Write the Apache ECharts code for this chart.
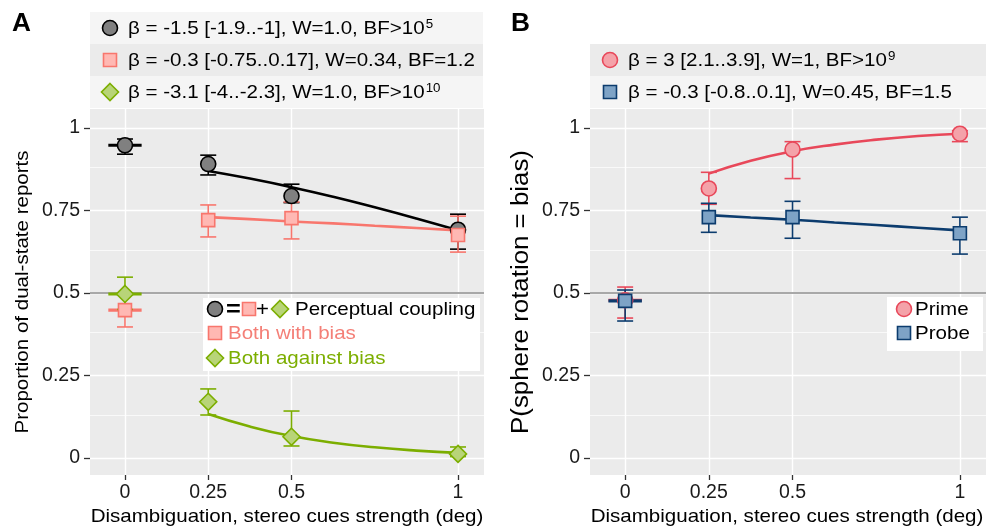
<!DOCTYPE html>
<html><head><meta charset="utf-8">
<script src="https://cdn.jsdelivr.net/npm/echarts@6/dist/echarts.min.js"></script>
<style>html,body{margin:0;padding:0;background:#fff}#c{width:986px;height:528px}</style>
</head><body><div id="c"></div>
<script>
// ---- data ----
const xLevels = [0, 0.25, 0.5, 1];
const xTicks = [0, 0.25, 0.5, 1];
const yTicks = [0, 0.25, 0.5, 0.75, 1];
const yMinor = [0.125, 0.375, 0.625, 0.875];
const chanceLevel = 0.5;
const fitX = [0.25, 0.375, 0.5, 0.625, 0.75, 0.875, 1];

// Panel A
const couplingMean = [0.948, 0.891, 0.794, 0.692];
const couplingLow  = [0.921, 0.858, 0.774, 0.633];
const couplingHigh = [0.967, 0.918, 0.830, 0.739];
const couplingFit  = [0.870, 0.847, 0.821, 0.792, 0.760, 0.726, 0.690];

const withBiasMean = [0.448, 0.721, 0.727, 0.676];
const withBiasLow  = [0.397, 0.670, 0.664, 0.624];
const withBiasHigh = [0.500, 0.767, 0.776, 0.733];
const withBiasFit  = [0.730, 0.724, 0.717, 0.711, 0.704, 0.697, 0.690];

const againstMean = [0.497, 0.170, 0.064, 0.012];
const againstLow  = [0.450, 0.130, 0.036, 0.004];
const againstHigh = [0.548, 0.209, 0.142, 0.033];
const againstFit  = [0.133, 0.095, 0.066, 0.046, 0.032, 0.022, 0.015];

// Panel B
const primeMean = [0.478, 0.817, 0.935, 0.983];
const primeLow  = [0.424, 0.769, 0.847, 0.959];
const primeHigh = [0.518, 0.866, 0.959, 0.992];
const primeFit  = [0.862, 0.901, 0.930, 0.950, 0.965, 0.976, 0.983];

const probeMean = [0.476, 0.730, 0.730, 0.681];
const probeLow  = [0.415, 0.684, 0.666, 0.618];
const probeHigh = [0.509, 0.772, 0.778, 0.730];
const probeFit  = [0.736, 0.729, 0.722, 0.714, 0.706, 0.698, 0.690];

// text
const legendTextA = [
  'β = -1.5 [-1.9..-1], W=1.0, BF>10{sup|5}',
  'β = -0.3 [-0.75..0.17], W=0.34, BF=1.2',
  'β = -3.1 [-4..-2.3], W=1.0, BF>10{sup|10}'
];
const legendTextB = [
  'β = 3 [2.1..3.9], W=1, BF>10{sup|9}',
  'β = -0.3 [-0.8..0.1], W=0.45, BF=1.5'
];
const innerLegendA = ['Perceptual coupling', 'Both with bias', 'Both against bias'];
const innerLegendB = ['Prime', 'Probe'];
const xTitle = 'Disambiguation, stereo cues strength (deg)';
const yTitleA = 'Proportion of dual-state reports';
const yTitleB = 'P(sphere rotation = bias)';

// ---- styles ----
const FONT = 'Liberation Sans, Arial, sans-serif';
const C = {
  coupling: {fill: '#808080', stroke: '#000000'},
  withBias: {fill: '#ffb8b3', stroke: '#f8766d', text: '#f47f77'},
  against: {fill: '#b8d478', stroke: '#7cae00', text: '#7cae00'},
  prime: {fill: '#f4a2a9', stroke: '#e8485a'},
  probe: {fill: '#7ea3c6', stroke: '#0c3c6e'}
};
const zeroBarHalf = 0.05;

function errData(mean, low, high) {
  return xLevels.map((x, i) => [x, low[i], high[i], mean[i]]);
}
function fitData(vals) { return fitX.map((x, i) => [x, vals[i]]); }
function ptData(vals) { return xLevels.map((x, i) => [x, vals[i]]); }

function errRender(color) {
  return function (params, api) {
    const x = api.value(0), lo = api.value(1), hi = api.value(2), m = api.value(3);
    const a = api.coord([x, lo]), b = api.coord([x, hi]);
    const cap = 8;
    const st = {stroke: color, lineWidth: 1.6, fill: null};
    const ch = [
      {type: 'line', shape: {x1: a[0], y1: a[1], x2: b[0], y2: b[1]}, style: st},
      {type: 'line', shape: {x1: a[0] - cap, y1: a[1], x2: a[0] + cap, y2: a[1]}, style: st},
      {type: 'line', shape: {x1: b[0] - cap, y1: b[1], x2: b[0] + cap, y2: b[1]}, style: st}
    ];
    if (x === xLevels[0]) {
      const l = api.coord([x - zeroBarHalf, m]), r = api.coord([x + zeroBarHalf, m]);
      ch.push({type: 'line', shape: {x1: l[0], y1: l[1], x2: r[0], y2: r[1]}, style: {stroke: color, lineWidth: 3.2}});
    }
    return {type: 'group', children: ch};
  };
}

function errSeries(g, mean, low, high, col) {
  return {type: 'custom', xAxisIndex: g, yAxisIndex: g, z: 2, renderItem: errRender(col.stroke),
    data: errData(mean, low, high), encode: {x: 0, y: [1, 2]}, silent: true};
}
function fitSeries(g, vals, col) {
  return {type: 'line', xAxisIndex: g, yAxisIndex: g, z: 3, smooth: true, showSymbol: false,
    data: fitData(vals), lineStyle: {color: col.stroke, width: 2.6}, silent: true};
}
function ptSeries(g, vals, col, symbol, size) {
  return {type: 'scatter', xAxisIndex: g, yAxisIndex: g, z: 4, symbol: symbol, symbolSize: size,
    data: ptData(vals), itemStyle: {color: col.fill, borderColor: col.stroke, borderWidth: 1.6, opacity: 1}, silent: true};
}
function backLineSeries(g) {
  const white = w => ({color: '#ffffff', width: w, type: 'solid', opacity: 1});
  const lines = yMinor.map(v => ({yAxis: v, lineStyle: white(0.7)}))
    .concat(yTicks.map(v => ({yAxis: v, lineStyle: white(1.4)})))
    .concat(xTicks.map(v => ({xAxis: v, lineStyle: white(1.4)})))
    .concat([{yAxis: chanceLevel, lineStyle: {color: '#a8a8a8', width: 2.2, type: 'solid', opacity: 1}}]);
  return {type: 'line', xAxisIndex: g, yAxisIndex: g, z: 1, data: [], silent: true,
    markLine: {z: 1, silent: true, symbol: 'none', label: {show: false}, animation: false,
      lineStyle: {type: 'solid'}, emphasis: {disabled: true}, data: lines}};
}

function xAxisDef(g) {
  return {type: 'value', gridIndex: g, min: -0.105, max: 1.078, position: 'bottom',
    axisLine: {show: false, onZero: false}, splitLine: {show: false},
    axisTick: {show: true, customValues: xTicks, length: 5, lineStyle: {color: '#333333', width: 1.3}},
    axisLabel: {customValues: xTicks, fontSize: 19.5, fontFamily: FONT, color: '#1a1a1a', margin: 8,
      formatter: v => String(v)}};
}
function yAxisDef(g) {
  return {type: 'value', gridIndex: g, min: -0.052, max: 1.058, position: 'left',
    axisLine: {show: false, onZero: false}, splitLine: {show: false},
    axisTick: {show: true, customValues: yTicks, length: 6, lineStyle: {color: '#333333', width: 1.3}},
    axisLabel: {customValues: yTicks, fontSize: 19.5, fontFamily: FONT, color: '#1a1a1a', margin: 10,
      formatter: v => String(v)}};
}

// ---- graphics ----
const SX = 1.11;
function txt(x, y, text, opts) {
  opts = opts || {};
  return {type: 'text', x: x, y: y, scaleX: opts.scaleX || SX, rotation: opts.rotation || 0, z: 10,
    style: {text: text, fontSize: opts.fontSize || 18.5, fontFamily: FONT, fontWeight: opts.fontWeight || 'normal',
      fill: opts.color || '#000', align: opts.align || 'left', verticalAlign: 'middle',
      rich: {sup: {fontSize: 12, fontFamily: FONT, fill: opts.color || '#000', padding: [0, 0, 9, 1]}}}};
}
function marker(kind, cx, cy, col) {
  const st = {fill: col.fill, stroke: col.stroke, lineWidth: 1.6};
  if (kind === 'circle') return {type: 'circle', z: 10, shape: {cx: cx, cy: cy, r: 7.5}, style: st};
  if (kind === 'rect') return {type: 'rect', z: 10, shape: {x: cx - 6.5, y: cy - 6.5, width: 13, height: 13}, style: st};
  return {type: 'polygon', z: 10, shape: {points: [[cx, cy - 8.5], [cx + 8.5, cy], [cx, cy + 8.5], [cx - 8.5, cy]]}, style: st};
}
const rowFill = ['#f5f5f5', '#ebebeb', '#f5f5f5'];
const graphics = [];
// panel letters
graphics.push(txt(12, 24, 'A', {fontSize: 25, fontWeight: 'bold', scaleX: 1.05}));
graphics.push(txt(511, 24, 'B', {fontSize: 25, fontWeight: 'bold', scaleX: 1.05}));
// top legend A
const kindsA = ['circle', 'rect', 'diamond'];
const colsA = [C.coupling, C.withBias, C.against];
legendTextA.forEach((t, i) => {
  const y0 = 12 + i * 32;
  graphics.push({type: 'rect', z: 5, shape: {x: 90, y: y0, width: 393, height: 32}, style: {fill: rowFill[i]}});
  graphics.push(marker(kindsA[i], 110, y0 + 16, colsA[i]));
  graphics.push(txt(128, y0 + 17, t));
});
// top legend B
const kindsB = ['circle', 'rect'];
const colsB = [C.prime, C.probe];
legendTextB.forEach((t, i) => {
  const y0 = 44 + i * 32;
  graphics.push({type: 'rect', z: 5, shape: {x: 590, y: y0, width: 396, height: 32}, style: {fill: rowFill[i + 1]}});
  graphics.push(marker(kindsB[i], 610, y0 + 16, colsB[i]));
  graphics.push(txt(628, y0 + 17, t));
});
// inner legend A
graphics.push({type: 'rect', z: 8, shape: {x: 203, y: 298, width: 277, height: 73}, style: {fill: '#ffffff'}});
graphics.push(marker('circle', 215, 309, C.coupling));
graphics.push(txt(226, 310, '=', {fontSize: 22, fontWeight: 'bold', scaleX: 1.15}));
graphics.push(marker('rect', 249, 309, C.withBias));
graphics.push(txt(256, 310, '+', {fontSize: 20}));
graphics.push(marker('diamond', 280, 309, C.against));
graphics.push(txt(295, 310, innerLegendA[0]));
graphics.push(marker('rect', 215, 333, C.withBias));
graphics.push(txt(228, 334, innerLegendA[1], {color: C.withBias.text}));
graphics.push(marker('diamond', 215, 358, C.against));
graphics.push(txt(228, 359, innerLegendA[2], {color: C.against.text}));
// inner legend B
graphics.push({type: 'rect', z: 8, shape: {x: 887, y: 297, width: 96, height: 54}, style: {fill: '#ffffff'}});
graphics.push(marker('circle', 904, 309, C.prime));
graphics.push(txt(915, 310, innerLegendB[0]));
graphics.push(marker('rect', 904, 333, C.probe));
graphics.push(txt(915, 334, innerLegendB[1]));
// axis titles
graphics.push(txt(287, 517, xTitle, {align: 'center'}));
graphics.push(txt(787, 517, xTitle, {align: 'center'}));
graphics.push(txt(23, 292, yTitleA, {align: 'center', rotation: Math.PI / 2}));
graphics.push(txt(522, 292, yTitleB, {align: 'center', rotation: Math.PI / 2, fontSize: 23.3}));

const chart = echarts.init(document.getElementById('c'), null, {renderer: 'canvas'});
chart.setOption({
  animation: false,
  backgroundColor: '#ffffff',
  textStyle: {fontFamily: FONT},
  grid: [
    {left: 90, top: 109, width: 394, height: 366, show: true, backgroundColor: '#ebebeb', borderWidth: 0},
    {left: 590, top: 109, width: 396, height: 366, show: true, backgroundColor: '#ebebeb', borderWidth: 0}
  ],
  xAxis: [xAxisDef(0), xAxisDef(1)],
  yAxis: [yAxisDef(0), yAxisDef(1)],
  series: [
    backLineSeries(0), backLineSeries(1),
    errSeries(0, couplingMean, couplingLow, couplingHigh, C.coupling),
    errSeries(0, withBiasMean, withBiasLow, withBiasHigh, C.withBias),
    errSeries(0, againstMean, againstLow, againstHigh, C.against),
    fitSeries(0, couplingFit, C.coupling),
    fitSeries(0, withBiasFit, C.withBias),
    fitSeries(0, againstFit, C.against),
    ptSeries(0, couplingMean, C.coupling, 'circle', 15),
    ptSeries(0, withBiasMean, C.withBias, 'rect', 13),
    ptSeries(0, againstMean, C.against, 'diamond', 17),
    errSeries(1, primeMean, primeLow, primeHigh, C.prime),
    errSeries(1, probeMean, probeLow, probeHigh, C.probe),
    fitSeries(1, primeFit, C.prime),
    fitSeries(1, probeFit, C.probe),
    ptSeries(1, primeMean, C.prime, 'circle', 15),
    ptSeries(1, probeMean, C.probe, 'rect', 13)
  ],
  graphic: graphics
});
</script>
</body></html>
